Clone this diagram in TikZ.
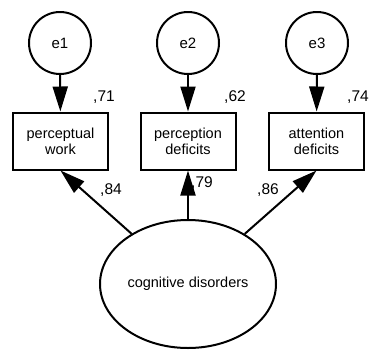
\documentclass[tikz,border=0pt]{standalone}
\usepackage{fontspec}
\setmainfont{Liberation Sans}
\usetikzlibrary{arrows.meta,shapes.geometric}
\begin{document}
\begin{tikzpicture}[x=1pt,y=-1pt,
  err/.style={draw,line width=2pt,circle,minimum size=62pt,inner sep=0pt,font=\fontsize{15}{17}\selectfont},
  obs/.style={draw,line width=2pt,rectangle,minimum width=95pt,minimum height=57pt,inner sep=0pt,align=center,font=\fontsize{14.5}{16}\selectfont},
  lat/.style={draw,line width=2pt,ellipse,minimum width=176pt,minimum height=128pt,inner sep=0pt,font=\fontsize{14.5}{16}\selectfont},
  coef/.style={font=\fontsize{15.5}{17}\selectfont,inner sep=0pt},
  path/.style={line width=2pt,-{Triangle[length=25pt,width=15pt]}}]
\useasboundingbox (0,0) rectangle (370,349);
\node[err] (e1) at (60,43) {e1};
\node[err] (e2) at (188,43) {e2};
\node[err] (e3) at (317,43) {e3};
\node[obs] (v1) at (60.5,141) {perceptual\\work};
\node[obs] (v2) at (188,141) {perception\\deficits};
\node[obs] (v3) at (316.5,141) {attention\\deficits};
\node[lat] (f) at (188,284) {cognitive disorders};
\node[coef] (r1) at (104,97) {,71};
\node[coef] (r2) at (235,97) {,62};
\node[coef] (r3) at (358,97) {,74};
\node[coef] (l1) at (111,190) {,84};
\node[coef] (l2) at (202,183) {,79};
\node[coef] (l3) at (268,190) {,86};
\draw[path] (e1) -- (v1);
\draw[path] (e2) -- (v2);
\draw[path] (e3) -- (v3);
\draw[path] (f) -- (v1.south);
\draw[path] (f) -- (v2.south);
\draw[path] (f) -- (v3.south);
\end{tikzpicture}
\end{document}
